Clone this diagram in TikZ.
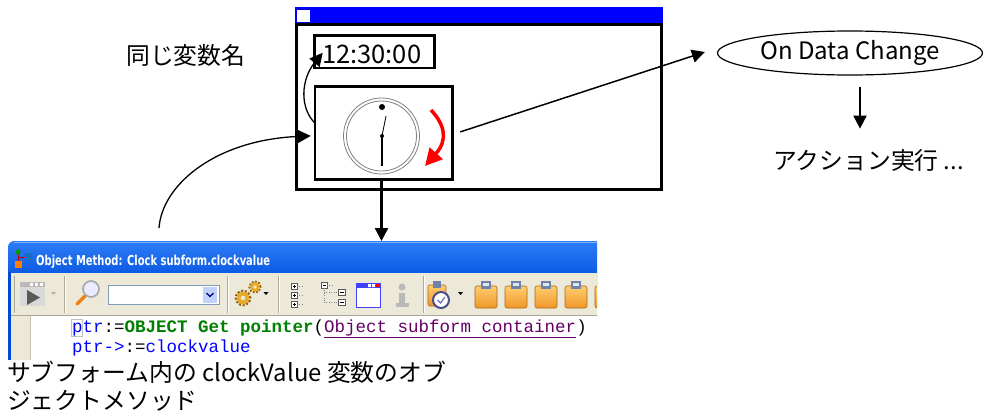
\documentclass[tikz,border=0pt]{standalone}
\usepackage{fontspec}
\setmainfont{Noto Sans CJK JP}
\newfontfamily\codefont{Liberation Mono}
\newfontfamily\uifont{DejaVu Sans}
\usetikzlibrary{arrows.meta,shapes.geometric}

\definecolor{formblue}{RGB}{0,0,255}
\definecolor{xptop}{RGB}{45,125,245}
\definecolor{xpbottom}{RGB}{0,78,222}
\definecolor{xpframe}{RGB}{0,72,220}
\definecolor{barbg}{RGB}{236,233,216}
\definecolor{barline}{RGB}{172,168,153}
\definecolor{codeblue}{RGB}{0,0,255}
\definecolor{codegreen}{RGB}{0,128,0}
\definecolor{codepurple}{RGB}{102,0,102}
\definecolor{combobd}{RGB}{127,157,185}
\definecolor{combobtn}{RGB}{193,211,251}
\definecolor{gearor}{RGB}{232,170,40}
\definecolor{geardk}{RGB}{150,100,20}
\definecolor{cliptop}{RGB}{255,205,110}
\definecolor{clipbot}{RGB}{240,150,40}
\definecolor{clipclamp}{RGB}{110,130,170}
\definecolor{clockblue}{RGB}{110,110,200}

\begin{document}
\begin{tikzpicture}[x=1pt,y=-1pt,
  box/.style={draw, line width=2.5pt, inner sep=0pt, outer sep=0pt},
  arr/.style={-{Triangle[length=13pt,width=13pt]}, line width=1.3pt},
  lbl/.style={inner sep=0pt, font=\fontsize{23.8}{28}\selectfont},
  tbsep/.style={barline, line width=0.8pt},
  clipbd/.style={top color=cliptop, bottom color=clipbot, draw=clipbot!70!black, line width=0.6pt, rounded corners=2pt},
  dropdn/.style={fill=black}
]
\fill[white] (0,0) rectangle (985,413);
\useasboundingbox (0,0) rectangle (985,413);

% ---------- form window ----------
\fill[formblue] (295,6.7) rectangle (662.7,23.5);
\fill[white] (297,10) rectangle (310,21.7);
\node[box, minimum width=365pt, minimum height=165pt] (win) at (479,107) {};

\node[box, minimum width=119.6pt, minimum height=32.5pt] (tbox) at (374.5,51.75) {};
\node[anchor=base west, inner sep=0pt, font=\fontsize{25.5}{30}\selectfont] (ttext) at (322,63) {12:30:00};

\node[box, minimum width=137.5pt, minimum height=93.2pt] (clk) at (383.5,132.9) {};

% clock face
\draw[gray, line width=0.8pt] (381.5,136) circle[radius=38pt];
\draw[gray, line width=0.8pt] (381.5,136) circle[radius=35pt];
\fill (382,107) circle[radius=3pt];
\draw[line width=0.8pt] (382,136) -- (386,116);
\draw[line width=1.6pt] (382,136) -- (382,166);
\fill (382,136) circle[radius=2pt];

% rotation hint
\draw[red, line width=3.5pt, -{Triangle[length=17pt,width=17pt]}]
  (431,110) .. controls (445,125) and (448,140) .. (425,166);

% ---------- event side ----------
\node[ellipse, draw, line width=1.2pt, inner sep=0pt, minimum width=265pt, minimum height=44pt,
      font=\fontsize{24}{28}\selectfont] (evt) at (850,53) {On Data Change};
\node[lbl, anchor=base west] (act) at (773,169) {アクション実行 ...};
\node[lbl, anchor=base west] (same) at (126,64) {同じ変数名};

% ---------- method editor window ----------
\begin{scope}
  \clip (8,241) rectangle (597,359);
  \shade[top color=xptop, bottom color=xpbottom, rounded corners=6pt] (8,241) rectangle (610,285);
  \fill[xptop!60!white] (14,241.5) rectangle (597,242.5);
  \fill[xpframe] (8,272) rectangle (11,362);
  \fill[barbg] (11,273) rectangle (600,315);
  \draw[barline] (11,315.5) -- (600,315.5);
  \fill[white] (30,316) rectangle (600,362);
  \fill[barbg] (11,316) rectangle (30,362);
  \draw[barline!70] (30.5,316) -- (30.5,362);

  % title icon
  \draw[red!75!black, line width=0.9pt] (18,253) -- (18,262) (19,257.5) -- (26,257.5);
  \fill[green!60!black] (18,252) circle[radius=2.6pt];
  \fill[cyan!50!blue] (25,252.5) rectangle (32,260);
  \fill[orange] (14.5,261) rectangle (21.5,268);
  \node[anchor=base west, inner sep=0pt, text=white, font=\uifont\bfseries\fontsize{13.7}{16}\selectfont]
    (ttl) at (36,265) {\resizebox{234pt}{\height}{Object Method: Clock subform.clockvalue}};

  % toolbar separators
  \foreach \sx in {64,227,278,423} {
    \draw[tbsep] (\sx,276) -- (\sx,313);
    \draw[white, line width=0.8pt] (\sx+1,276) -- (\sx+1,313);
  }
  \draw[tbsep] (14,276) -- (14,313);

  % run button (disabled)
  \fill[gray!30] (20,282) rectangle (45,306);
  \fill[gray!55] (20,282) rectangle (45,287);
  \foreach \fx in {30,35,40} \fill[white] (\fx,283) rectangle (\fx+3,286);
  \fill[gray!70!black] (27,290) -- (27,305) -- (40,297.5) -- cycle;
  \fill[gray!60] (51,292) -- (56,292) -- (53.5,295) -- cycle;

  % search
  \draw[orange!70!brown, line width=3.5pt, line cap=round] (85,296) -- (77,304);
  \draw[gray!70, line width=1.6pt, fill=blue!8] (91,289) circle[radius=8pt];
  \draw[fill=white, draw=combobd] (108.5,285.5) rectangle (219,304);
  \fill[combobtn] (203,287) rectangle (217,302.5);
  \draw[blue!45!black, line width=1.2pt] (206.5,293) -- (210,296.5) -- (213.5,293);

  % gears
  \draw[geardk, line width=2.6pt, dash pattern=on 2pt off 1.6pt] (243,298) circle[radius=7pt];
  \fill[gearor] (243,298) circle[radius=6.2pt];
  \fill[barbg] (243,298) circle[radius=2.3pt];
  \draw[geardk, line width=2.2pt, dash pattern=on 1.8pt off 1.5pt] (255,287) circle[radius=5.5pt];
  \fill[gearor] (255,287) circle[radius=4.8pt];
  \fill[barbg] (255,287) circle[radius=1.8pt];
  \fill[dropdn] (263.5,292) -- (268.5,292) -- (266,295) -- cycle;

  % tree icons
  \foreach \ty in {283,292,301} {
    \draw[gray!70!black, fill=white, line width=0.5pt] (291,\ty) rectangle (297,\ty+6);
    \draw[line width=0.5pt] (292.5,\ty+3) -- (295.5,\ty+3) (294,\ty+1.5) -- (294,\ty+4.5);
    \draw[gray, dotted] (297,\ty+3) -- (302,\ty+3);
  }
  \draw[gray!70!black, fill=white, line width=0.5pt] (321,282) rectangle (327,288);
  \draw[line width=0.5pt] (322.5,285) -- (325.5,285);
  \draw[gray, dotted] (327,285) -- (332,285) (324,288) -- (324,303) (324,292) -- (338,292) (324,302) -- (338,302);
  \draw[gray!70!black, fill=white, line width=0.5pt] (338,289) rectangle (345,295);
  \draw[gray!70!black, fill=white, line width=0.5pt] (338,299) rectangle (345,305);
  \draw[line width=0.5pt] (339.5,292) -- (343.5,292) (339.5,302) -- (343.5,302);

  % window icon
  \draw[blue!75, fill=white, line width=1pt] (356,283) rectangle (380,307);
  \fill[blue!75] (356,283) rectangle (380,288);
  \fill[white] (368,284) rectangle (371,287) (372,284) rectangle (375,287);
  \fill[red] (376,284) rectangle (379,287);

  % info icon
  \fill[gray!55] (402,287) circle[radius=3.5pt];
  \fill[gray!55] (399,293) rectangle (405,304);
  \fill[gray!55] (396,303) rectangle (409,307);

  % scheduled clipboard
  \shade[clipbd] (428,285) rectangle (446,306);
  \fill[clipclamp] (433,281) rectangle (441,288);
  \draw[clockblue!70!black, fill=white, line width=2pt] (441,300) circle[radius=8pt];
  \draw[clockblue, line width=1.2pt] (437.5,300) -- (440.5,303) -- (445,297);
  \fill[dropdn] (458,292) -- (463,292) -- (460.5,295) -- cycle;

  % clipboards
  \foreach \cx in {475,505,535,565,595} {
    \shade[clipbd] (\cx,286) rectangle (\cx+22,308);
    \fill[clipclamp] (\cx+6,281) rectangle (\cx+16,289);
    \fill[white!80!clipclamp] (\cx+8,283) rectangle (\cx+14,286);
  }

  % code
  \draw[gray!50, line width=0.6pt] (71.5,319) rectangle (82,336);
  \node[anchor=base west, inner sep=0pt, font=\codefont\fontsize{17.5}{20}\selectfont] (code1) at (72,332)
    {\textcolor{codeblue}{ptr}:=\textcolor{codegreen}{\bfseries OBJECT Get pointer}(\textcolor{codepurple}{\underline{Object subform container}})};
  \node[anchor=base west, inner sep=0pt, font=\codefont\fontsize{17.5}{20}\selectfont] (code2) at (72,352)
    {\textcolor{codeblue}{ptr->}:=\textcolor{codeblue}{clockvalue}};
\end{scope}
\coordinate (shot) at (381.5,241);
\coordinate (src) at (159,228);

\node[lbl, anchor=north west, align=left] (cap) at (7,361)
  {サブフォーム内の clockValue 変数のオブ\\ジェクトメソッド};

% ---------- connectors ----------
\draw[arr] ([yshift=10pt]clk.west) .. controls +(-15,-15) and +(-22,27) .. ([xshift=8pt,yshift=-1pt]tbox.west);
\draw[arr] (src) .. controls (162,185) and (215,140) .. ([xshift=-4pt,yshift=-3pt]clk.west);
\draw[arr, line width=2.5pt] ([xshift=-2pt]clk.south) -- (shot);
\draw[arr, line width=1.5pt] ([xshift=8pt,yshift=1pt]clk.east) -- ([xshift=-12pt,yshift=1pt]evt.west);
\draw[arr, line width=2pt] ([xshift=10pt,yshift=-11pt]evt.south) -- ++(0,42);
\end{tikzpicture}
\end{document}
